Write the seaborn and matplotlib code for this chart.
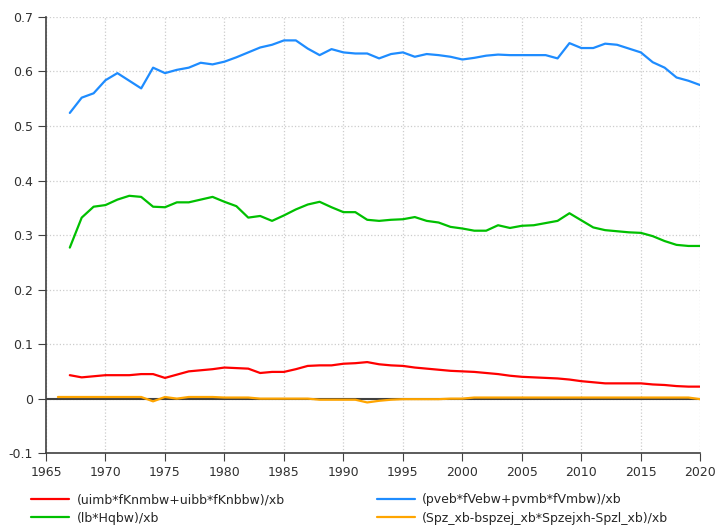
import numpy as np
import pandas as pd
import matplotlib
matplotlib.use("Agg")
import matplotlib.pyplot as plt
import seaborn as sns
from matplotlib.ticker import MultipleLocator

years = list(range(1967, 2021))
years_sp = list(range(1966, 2021))

# (uimb*fKnmbw+uibb*fKnbbw)/xb
red = [0.043, 0.039, 0.041, 0.043, 0.043, 0.043, 0.045, 0.045, 0.038, 0.044,
       0.050, 0.052, 0.054, 0.057, 0.056, 0.055, 0.047, 0.049, 0.049, 0.054,
       0.060, 0.061, 0.061, 0.064, 0.065, 0.067, 0.063, 0.061, 0.060, 0.057,
       0.055, 0.053, 0.051, 0.050, 0.049, 0.047, 0.045, 0.042, 0.040, 0.039,
       0.038, 0.037, 0.035, 0.032, 0.030, 0.028, 0.028, 0.028, 0.028, 0.026,
       0.025, 0.023, 0.022, 0.022]

# (lb*Hqbw)/xb
green = [0.277, 0.332, 0.352, 0.355, 0.365, 0.372, 0.370, 0.352, 0.351, 0.360,
         0.360, 0.365, 0.370, 0.361, 0.353, 0.332, 0.335, 0.326, 0.336, 0.347,
         0.356, 0.361, 0.351, 0.342, 0.342, 0.328, 0.326, 0.328, 0.329, 0.333,
         0.326, 0.323, 0.315, 0.312, 0.308, 0.308, 0.318, 0.313, 0.317, 0.318,
         0.322, 0.326, 0.340, 0.327, 0.314, 0.309, 0.307, 0.305, 0.304, 0.298,
         0.289, 0.282, 0.280, 0.280]

# (pveb*fVebw+pvmb*fVmbw)/xb
blue = [0.524, 0.552, 0.560, 0.584, 0.597, 0.583, 0.569, 0.607, 0.597, 0.603,
        0.607, 0.616, 0.613, 0.618, 0.626, 0.635, 0.644, 0.649, 0.657, 0.657,
        0.642, 0.630, 0.641, 0.635, 0.633, 0.633, 0.624, 0.632, 0.635, 0.627,
        0.632, 0.630, 0.627, 0.622, 0.625, 0.629, 0.631, 0.630, 0.630, 0.630,
        0.630, 0.624, 0.652, 0.643, 0.643, 0.651, 0.649, 0.642, 0.635, 0.617,
        0.607, 0.589, 0.583, 0.575]

# (Spz_xb-bspzej_xb*Spzejxh-Spzl_xb)/xb
orange = [0.003, 0.003, 0.003, 0.003, 0.003, 0.003, 0.003, 0.003, -0.005, 0.003,
          0.000, 0.003, 0.003, 0.003, 0.002, 0.002, 0.002, 0.000, 0.000, 0.000,
          0.000, 0.000, -0.002, -0.002, -0.002, -0.002, -0.007, -0.004, -0.002, -0.001,
          -0.001, -0.001, -0.001, 0.000, 0.000, 0.002, 0.002, 0.002, 0.002, 0.002,
          0.002, 0.002, 0.002, 0.002, 0.002, 0.002, 0.002, 0.002, 0.002, 0.002,
          0.002, 0.002, 0.002, 0.002, -0.001]

labels = ["(uimb*fKnmbw+uibb*fKnbbw)/xb", "(lb*Hqbw)/xb",
          "(pveb*fVebw+pvmb*fVmbw)/xb", "(Spz_xb-bspzej_xb*Spzejxh-Spzl_xb)/xb"]
colors = ["#ff0000", "#00c000", "#1e8cff", "#ffa500"]

sns.set_style("white")
plt.rcParams["font.family"] = ["DejaVu Sans"]

fig = plt.figure(figsize=(7.19, 5.30), dpi=100)
ax = fig.add_axes([0.064, 0.145, 0.910, 0.823])

# zero line
ax.axhline(0, color="#404040", lw=1.5, zorder=1)

series = [(years, red), (years, green), (years, blue), (years_sp, orange)]
for (x, y), lab, c in zip(series, labels, colors):
    sns.lineplot(x=x, y=y, ax=ax, color=c, lw=1.6, label=lab, zorder=3)

ax.set_xlim(1965, 2020)
ax.set_ylim(-0.1, 0.7)
ax.xaxis.set_major_locator(MultipleLocator(5))
ax.xaxis.set_minor_locator(MultipleLocator(1))
ax.set_yticks(np.arange(-0.1, 0.71, 0.1))
ax.set_yticklabels(["-0.1", "0", "0.1", "0.2", "0.3", "0.4", "0.5", "0.6", "0.7"])

ax.grid(True, which="major", color="#cccccc", linestyle=":", lw=0.9)
for s in ["top", "right"]:
    ax.spines[s].set_visible(False)
for s in ["left", "bottom"]:
    ax.spines[s].set_color("#404040")
    ax.spines[s].set_linewidth(1.2)

ax.tick_params(axis="both", which="major", direction="out", length=6,
               color="#404040", labelsize=9, labelcolor="#303030")
ax.tick_params(axis="x", which="minor", direction="out", length=3, color="#404040")
ax.tick_params(axis="x", which="major", bottom=True)
ax.tick_params(axis="y", which="major", left=True)
ax.set_xlabel("")
ax.set_ylabel("")

ax.legend(loc="upper left", bbox_to_anchor=(-0.03, -0.08), ncol=2,
          frameon=False, fontsize=9, handlelength=3.0, handletextpad=0.6,
          columnspacing=7.4, labelspacing=0.45, borderaxespad=0)

fig.savefig("out.png", dpi=100)
